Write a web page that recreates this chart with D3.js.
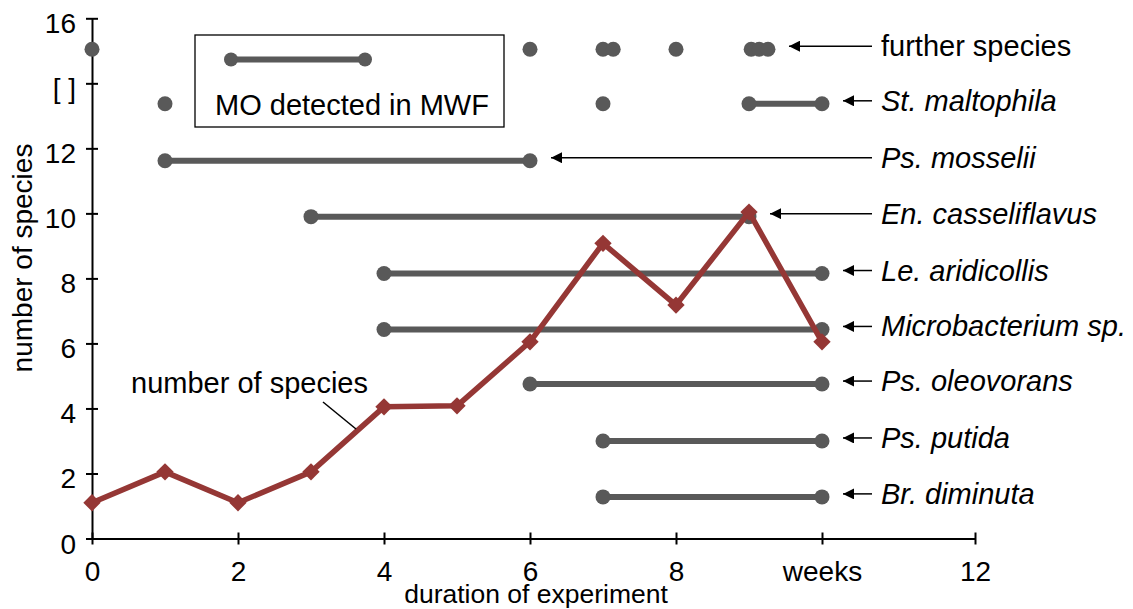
<!DOCTYPE html>
<html>
<head>
<meta charset="utf-8">
<script src="https://cdn.jsdelivr.net/npm/d3@7"></script>
<style>
	body { margin: 0; background: #fff; }
	svg text { font-family: "Liberation Sans", Arial, sans-serif; }
</style>
</head>
<body>
<svg class="svgChart"></svg>
<script>
// Data:
var weeks = [0, 1, 2, 3, 4, 5, 6, 7, 8, 9, 10];
var speciesCount = [1.1, 2.05, 1.1, 2.05, 4.05, 4.08, 6.05, 9.08, 7.18, 10.04, 6.05];

var speciesNames = ["Br. diminuta", "Ps. putida", "Ps. oleovorans", "Microbacterium sp.", "Le. aridicollis",
	"En. casseliflavus", "Ps. mosselii", "St. maltophila", "further species"];
var speciesLevel = [1.28, 3.0, 4.75, 6.43, 8.15, 9.9, 11.62, 13.37, 15.05];
// [from, to] weeks in which the MO was detected in MWF (from == to -> single dot)
var speciesDetected = [
	[[7, 10]],
	[[7, 10]],
	[[6, 10]],
	[[4, 10]],
	[[4, 10]],
	[[3, 9]],
	[[1, 6]],
	[[1, 1], [7, 7], [9, 10]],
	[[0, 0], [6, 6], [7, 7], [7.14, 7.14], [8, 8], [9.03, 9.03], [9.14, 9.14], [9.26, 9.26]]
];
var speciesItalic = [true, true, true, true, true, true, true, true, false];

var xTicks = [0, 2, 4, 6, 8, 10, 12];
var xTickLabels = ["0", "2", "4", "6", "8", "weeks", "12"];
var yTicks = [0, 2, 4, 6, 8, 10, 12, 14, 16];
var yTickLabels = ["0", "2", "4", "6", "8", "10", "12", "[ ]", "16"];

var gray = "#595959";
var red = "#953735";
var fontSize = "28px";
var labelSize = "29px";

var svg = d3.select(".svgChart").attr("width", 1133).attr("height", 609);

// scales (the last tick of the original sits a bit further out)
var x = d3.scaleLinear().domain([0, 10, 12]).range([92, 822, 975]);
var y = d3.scaleLinear().domain([0, 16]).range([538.5, 18.3]);

// ------- axes -------
var xAxis = svg.append("g")
	.attr("transform", "translate(0," + y(0) + ")")
	.call(d3.axisBottom(x).tickValues(xTicks)
		.tickFormat(function(d, i) { return xTickLabels[i]; })
		.tickSizeOuter(0));
xAxis.selectAll(".tick line").attr("y1", -6).attr("y2", 6).attr("stroke", "#000").attr("stroke-width", 2);
xAxis.selectAll(".tick text").attr("y", 42).attr("dy", null)
	.attr("fill", "#000").style("font-size", fontSize);
xAxis.select(".domain").attr("stroke", "#000").attr("stroke-width", 2);

var yAxis = svg.append("g")
	.attr("transform", "translate(" + x(0) + ",0)")
	.call(d3.axisLeft(y).tickValues(yTicks)
		.tickFormat(function(d, i) { return yTickLabels[i]; })
		.tickSizeOuter(0));
yAxis.selectAll(".tick line").attr("x1", -6).attr("x2", 6).attr("stroke", "#000").attr("stroke-width", 2);
yAxis.selectAll(".tick text").attr("x", -16).attr("dy", null).attr("y", 14.5)
	.attr("fill", "#000").style("font-size", fontSize);
yAxis.select(".domain").attr("stroke", "#000").attr("stroke-width", 2);

svg.append("text")
	.attr("transform", "translate(32,258) rotate(-90)")
	.attr("text-anchor", "middle")
	.style("font-size", fontSize)
	.text("number of species");

svg.append("text")
	.attr("x", 536).attr("y", 603)
	.attr("text-anchor", "middle")
	.style("font-size", "26.5px")
	.text("duration of experiment");

// ------- species detected (gray) -------
var rows = svg.selectAll("g.species")
	.data(speciesNames)
	.enter().append("g")
	.attr("class", "species");

rows.each(function(name, i) {
	var row = d3.select(this);
	var yy = y(speciesLevel[i]);
	speciesDetected[i].forEach(function(span) {
		if (span[1] > span[0]) {
			row.append("line")
				.attr("x1", x(span[0])).attr("x2", x(span[1]))
				.attr("y1", yy).attr("y2", yy)
				.attr("stroke", gray).attr("stroke-width", 6);
		}
		row.selectAll(null)
			.data(span[1] > span[0] ? span : [span[0]])
			.enter().append("circle")
			.attr("cx", function(d) { return x(d); })
			.attr("cy", yy)
			.attr("r", 7.5)
			.attr("fill", gray);
	});
});

// ------- arrows + species labels -------
svg.append("defs").append("marker")
	.attr("id", "arrowHead")
	.attr("viewBox", "0 0 10 10")
	.attr("refX", 0).attr("refY", 5)
	.attr("markerUnits", "userSpaceOnUse")
	.attr("markerWidth", 15).attr("markerHeight", 11)
	.attr("orient", "0")
	.append("path")
	.attr("d", "M0,5 L10,0 L10,10 Z")
	.attr("fill", "#000");

rows.each(function(name, i) {
	var row = d3.select(this);
	var spans = speciesDetected[i];
	var lastX = spans[spans.length - 1][1];
	var yy = y(speciesLevel[i]) - 3;
	row.append("line")
		.attr("x1", 872).attr("x2", x(lastX) + 21)
		.attr("y1", yy).attr("y2", yy)
		.attr("stroke", "#000").attr("stroke-width", 1.5)
		.attr("marker-end", "url(#arrowHead)");
	row.append("text")
		.attr("x", 881).attr("y", yy + 10)
		.style("font-size", labelSize)
		.style("font-style", speciesItalic[i] ? "italic" : "normal")
		.text(name);
});

// ------- number of species (red) -------
var line = d3.line()
	.x(function(d, i) { return x(weeks[i]); })
	.y(function(d) { return y(d); });

svg.append("path")
	.datum(speciesCount)
	.attr("d", line)
	.attr("fill", "none")
	.attr("stroke", red)
	.attr("stroke-width", 5.5)
	.attr("stroke-linejoin", "round");

svg.selectAll("path.diamond")
	.data(speciesCount)
	.enter().append("path")
	.attr("class", "diamond")
	.attr("d", d3.symbol().type(d3.symbolSquare).size(150))
	.attr("transform", function(d, i) { return "translate(" + x(weeks[i]) + "," + y(d) + ") rotate(45)"; })
	.attr("fill", red);

svg.append("text")
	.attr("x", 131).attr("y", 393)
	.style("font-size", labelSize)
	.text("number of species");
svg.append("line")
	.attr("x1", 323).attr("y1", 402)
	.attr("x2", 356).attr("y2", 429)
	.attr("stroke", "#000").attr("stroke-width", 1.5);

// ------- legend -------
var legend = svg.append("g").attr("class", "legend");
legend.append("rect")
	.attr("x", 195).attr("y", 35)
	.attr("width", 309).attr("height", 92)
	.attr("fill", "#fff").attr("stroke", "#000").attr("stroke-width", 1.3);
legend.append("line")
	.attr("x1", 231).attr("x2", 365)
	.attr("y1", 59.5).attr("y2", 59.5)
	.attr("stroke", gray).attr("stroke-width", 6);
legend.selectAll("circle")
	.data([231, 365])
	.enter().append("circle")
	.attr("cx", function(d) { return d; })
	.attr("cy", 59.5)
	.attr("r", 7)
	.attr("fill", gray);
legend.append("text")
	.attr("x", 215).attr("y", 115)
	.style("font-size", labelSize)
	.text("MO detected in MWF");
</script>
</body>
</html>
